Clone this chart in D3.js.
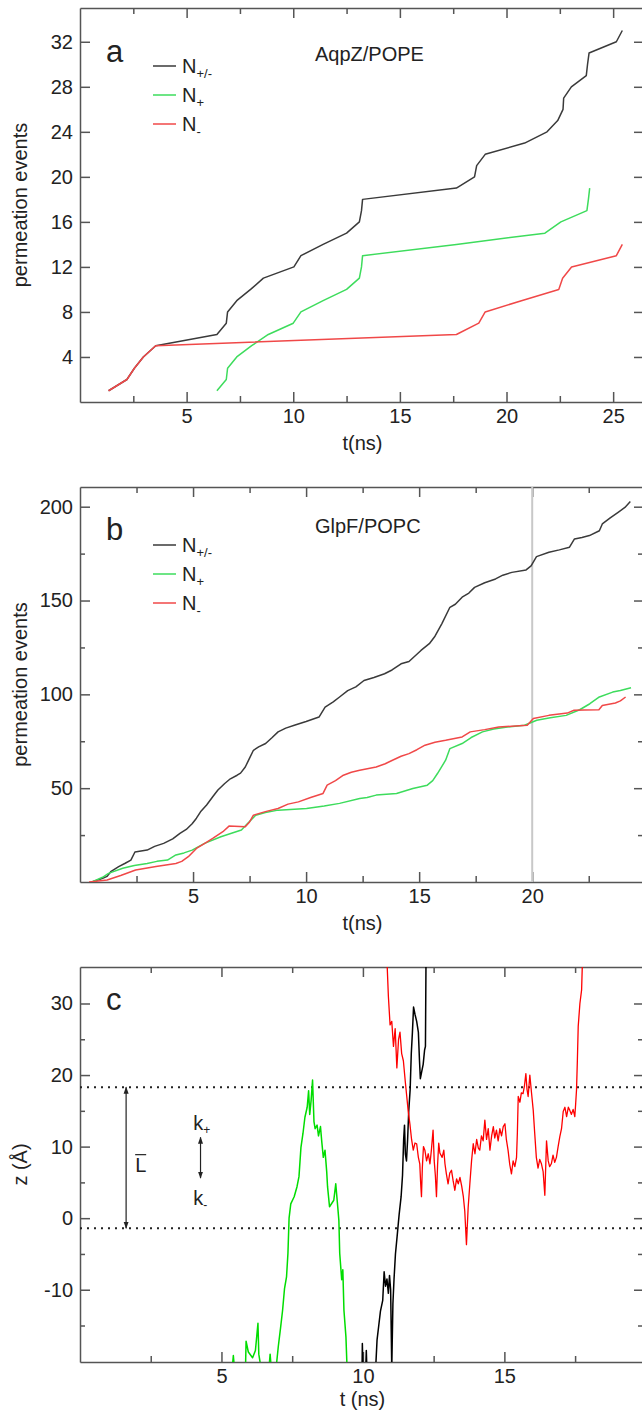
<!DOCTYPE html>
<html>
<head>
<meta charset="utf-8">
<script src="https://cdn.jsdelivr.net/npm/d3@7"></script>
<style>
  body { margin: 0; background: #fff; }
  svg { display: block; font-family: "Liberation Sans", Arial, Helvetica, sans-serif; }
  .axis path, .axis line { stroke: #555; stroke-width: 1.5; }
  .axis text { font-size: 20px; fill: #222; font-family: "Liberation Sans", Arial, sans-serif; }
</style>
</head>
<body>
<svg id="chart" width="642" height="1416"></svg>
<script>
// panel a - AqpZ/POPE, kumulatif kejadian permeasi
const aTimeAll  = [1.34, 2.2, 2.55, 2.97, 3.55, 6.42, 6.86, 6.92, 7.35, 8.0, 8.6, 10.03, 10.36, 11.4, 12.5, 13.1, 13.2, 13.25, 17.65, 18.5, 18.6, 19.0, 20.85, 21.9, 22.4, 22.65, 22.68, 23.04, 23.74, 23.8, 23.87, 25.15, 25.43];
const aCountAll = [1, 2, 3, 4, 5, 6, 7, 8, 9, 10, 11, 12, 13, 14, 15, 16, 17, 18, 19, 20, 21, 22, 23, 24, 25, 26, 27, 28, 29, 30, 31, 32, 33];
const aTimePlus  = [6.42, 6.86, 6.92, 7.35, 8.05, 8.83, 10.0, 10.36, 11.4, 12.5, 13.1, 13.2, 13.25, 17.65, 21.8, 22.55, 23.77, 23.84, 23.9];
const aCountPlus = [1, 2, 3, 4, 5, 6, 7, 8, 9, 10, 11, 12, 13, 14, 15, 16, 17, 18, 19];
const aTimeMinus  = [1.34, 2.2, 2.55, 2.97, 3.55, 17.65, 18.7, 19.0, 20.7, 22.45, 22.63, 23.05, 25.15, 25.43];
const aCountMinus = [1, 2, 3, 4, 5, 6, 7, 8, 9, 10, 11, 12, 13, 14];

// panel b - GlpF/POPC
const bTimeAll  = [0.53, 1.0, 1.2, 1.36, 1.71, 2.0, 2.25, 2.43, 2.97, 3.3, 3.7, 4.1, 4.42, 4.7, 4.96, 5.15, 5.33, 5.6, 5.87, 6.1, 6.4, 6.65, 6.95, 7.1, 7.31, 7.5, 7.67, 7.9, 8.21, 8.5, 8.76, 9.1, 9.48, 10.0, 10.57, 10.84, 11.2, 11.48, 11.84, 12.2, 12.56, 13.0, 13.47, 13.8, 14.2, 14.55, 15.08, 15.45, 15.7, 16.0, 16.36, 16.6, 16.9, 17.2, 17.45, 17.9, 18.38, 18.7, 19.1, 19.73, 19.95, 20.19, 20.74, 21.2, 21.65, 21.87, 22.2, 22.53, 22.97, 23.1, 23.45, 23.8, 24.1, 24.34];
const bCountAll = [0, 2, 3, 5.5, 8.2, 10, 11.7, 16, 17, 19, 20.6, 23, 25.9, 28, 31, 34, 37.4, 41, 45.4, 49, 52.5, 55, 56.9, 58, 61.3, 66, 70.2, 72, 73.8, 77, 80, 82, 83.5, 85.5, 87.9, 93.2, 96, 98.6, 102, 104, 107.4, 109, 111, 113, 116.3, 117.5, 123.4, 127, 131, 137.6, 146.4, 148, 151.8, 154, 157, 159.5, 161.5, 163.5, 165, 166.3, 168.5, 173.4, 175.7, 177, 178.4, 182.8, 183.6, 184.6, 187.2, 190.8, 194, 197, 199.6, 202.8];
const bTimePlus  = [0.53, 1.0, 1.26, 1.89, 2.4, 2.97, 3.4, 3.87, 4.24, 4.6, 4.96, 5.51, 6.23, 6.7, 7.14, 7.4, 7.77, 8.2, 8.76, 10.02, 10.8, 11.48, 12.37, 12.7, 13.1, 14.0, 14.72, 15.36, 15.6, 15.81, 16.17, 16.36, 16.9, 17.3, 17.8, 18.3, 18.9, 19.66, 20.2, 20.8, 21.5, 22.1, 22.55, 22.97, 23.56, 23.9, 24.37];
const bCountPlus = [0, 2.5, 4.6, 7.3, 8.8, 9.9, 11, 11.7, 14.4, 15.5, 17, 20.6, 24.1, 26, 27.7, 31, 35.6, 37, 38.3, 39.2, 40.5, 41.9, 44.5, 45, 46.3, 47.2, 49.8, 51.6, 54, 57.8, 64.9, 71.1, 73.8, 77, 80, 81.5, 82.6, 83.5, 86.2, 87.5, 88.8, 91.8, 95, 98.6, 101.2, 102, 103.5];
const bTimeMinus  = [0.4, 0.8, 1.2, 1.8, 2.46, 3.36, 4.24, 4.5, 4.79, 5.15, 5.5, 5.87, 6.32, 6.59, 7.31, 7.5, 7.67, 8.2, 8.76, 9.2, 9.66, 10.2, 10.75, 10.93, 11.3, 11.65, 12.0, 12.37, 13.1, 13.5, 13.82, 14.2, 14.55, 14.9, 15.26, 15.7, 16.17, 16.9, 17.26, 17.9, 18.52, 19.1, 19.78, 20.05, 20.74, 21.55, 21.85, 22.3, 22.95, 23.1, 23.68, 23.9, 24.13];
const bCountMinus = [0, 0.5, 1.1, 3.5, 6.4, 8.2, 9.9, 11, 13.5, 17.9, 20.5, 23.2, 26.8, 29.8, 29.4, 32, 35.6, 37.5, 39.2, 41.5, 42.7, 45, 47.2, 51.6, 54, 56.9, 58.5, 59.6, 61.3, 63, 64.9, 67, 68.4, 70.5, 72.9, 74.5, 75.5, 77.3, 80, 81.2, 82.6, 83, 83.5, 87.1, 88.8, 90, 91.5, 91.7, 91.8, 94.1, 95.4, 96.5, 98.6];

// panel c - lintasan z molekul air
const cTimeGreen = [5.38, 5.42, 5.46, 5.85, 5.87, 5.95, 6.1, 6.2, 6.29, 6.32, 6.4, 6.68, 6.72, 6.76, 6.93, 7.01, 7.09, 7.16, 7.23, 7.3, 7.35, 7.39, 7.45, 7.57, 7.67, 7.74, 7.81, 7.88, 7.95, 8.03, 8.08, 8.12, 8.17, 8.22, 8.27, 8.31, 8.38, 8.43, 8.5, 8.55, 8.6, 8.66, 8.72, 8.75, 8.82, 8.97, 9.04, 9.11, 9.15, 9.18, 9.25, 9.29, 9.33, 9.4, 9.44];
const cZGreen    = [-21, -19.2, -21, -21, -17.2, -18.7, -19.5, -18.5, -14.7, -19, -21, -21, -19, -21, -21, -17.9, -15.3, -12.9, -9.8, -8.2, -4.9, 0, 2.0, 3.0, 4.4, 5.8, 9.9, 11.8, 14.1, 15.5, 17.8, 14.5, 16.5, 19.3, 13.5, 12.5, 13.0, 11.5, 12.8, 10.5, 8.5, 9.5, 6.5, 4.4, 1.6, 2.5, 4.8, 1.6, -0.3, -4.9, -8.6, -7.2, -12.9, -16.6, -21];
const cTimeBlack = [9.97, 9.98, 10.0, 10.1, 10.12, 10.14, 10.45, 10.5, 10.56, 10.62, 10.7, 10.75, 10.8, 10.85, 10.9, 10.94, 10.98, 11.02, 11.06, 11.1, 11.15, 11.21, 11.28, 11.35, 11.4, 11.44, 11.47, 11.5, 11.54, 11.58, 11.62, 11.67, 11.71, 11.75, 11.79, 11.84, 11.9, 11.96, 12.0, 12.03, 12.08, 12.13, 12.18, 12.21, 12.23];
const cZBlack    = [-21, -17.5, -21, -21, -18.5, -21, -21, -17, -15, -13, -11.5, -7.5, -9.5, -8.5, -10.5, -8, -10, -21, -12, -8.5, -5, -2.5, 0.5, 3, 6, 11, 13, 9, 8, 11, 15, 18, 23, 26, 29.5, 28.5, 27.5, 26, 22, 19.5, 20.5, 21.5, 23.5, 24, 36];
const cTimeRed = [10.85, 10.9, 10.96, 11.02, 11.08, 11.14, 11.2, 11.26, 11.31, 11.37, 11.43, 11.5, 11.55, 11.6, 11.66, 11.72, 11.78, 11.84, 11.9, 11.96, 12.01, 12.04, 12.07, 12.1, 12.14, 12.19, 12.25, 12.31, 12.37, 12.42, 12.48, 12.52, 12.56, 12.6, 12.64, 12.68, 12.72, 12.8, 12.86, 12.9, 12.95, 13.01, 13.07, 13.13, 13.19, 13.25, 13.31, 13.37, 13.43, 13.49, 13.55, 13.6, 13.66, 13.72, 13.78, 13.84, 13.9, 13.96, 14.02, 14.08, 14.13, 14.19, 14.25, 14.31, 14.37, 14.43, 14.49, 14.55, 14.61, 14.66, 14.72, 14.78, 14.84, 14.9, 14.96, 15.02, 15.07, 15.13, 15.19, 15.25, 15.31, 15.37, 15.43, 15.46, 15.49, 15.55, 15.6, 15.66, 15.71, 15.76, 15.8, 15.84, 15.9, 15.96, 16.02, 16.07, 16.13, 16.19, 16.25, 16.31, 16.37, 16.43, 16.49, 16.55, 16.6, 16.66, 16.72, 16.78, 16.84, 16.9, 16.96, 17.02, 17.08, 17.14, 17.2, 17.26, 17.31, 17.37, 17.43, 17.49, 17.52, 17.55, 17.58, 17.61, 17.67, 17.73, 17.76];
const cZRed    = [36, 31, 27, 27.5, 24, 26.5, 21, 25, 26, 23, 22, 19, 17, 15, 13.2, 11, 9.5, 10.5, 10.4, 8.5, 7.6, 5, 3.0, 7, 10, 9.5, 8, 9, 7.6, 9.5, 12.3, 8, 6, 3.0, 7.5, 10.5, 9.1, 8.5, 9.5, 7.6, 6.2, 4.8, 6.3, 6.7, 5.2, 3.9, 5.5, 4.8, 5.7, 4.5, 3.0, 1.0, -3.7, 1.5, 4.8, 8.0, 10.4, 9.0, 11.0, 9.8, 9.5, 11.5, 10.8, 13.7, 11.0, 12.5, 9.5, 11.5, 12.8, 11.2, 12.3, 10.8, 12.5, 11.5, 12.8, 13.2, 11.0, 9.5, 7.5, 6.2, 8.0, 7.2, 8.5, 12, 17.0, 16.2, 17.5, 17.4, 18.5, 20.2, 18, 17.0, 20.0, 17.5, 15.1, 12, 8.5, 7.0, 8.2, 7.6, 6.5, 3.2, 10.8, 8.0, 7.2, 7.6, 8.8, 7.8, 8.5, 10, 11.4, 12.5, 14.9, 15.5, 14.2, 15.5, 15.1, 14.5, 15.2, 14.2, 16, 17.9, 22, 26.8, 30, 31.9, 36];
const cBoundUpper = 18.3;
const cBoundLower = -1.4;

// tick
const aYTicks = [4, 8, 12, 16, 20, 24, 28, 32];
const aXTicks = [5, 10, 15, 20, 25];
const bYTicks = [50, 100, 150, 200];
const bYMinor = [25, 75, 125, 175];
const bXTicks = [5, 10, 15, 20];
const cYTicks = [-10, 0, 10, 20, 30];
const cYMinor = [-15, -5, 5, 15, 25];
const cXTicks = [5, 10, 15];

const legendLabels = [["N", "+/-"], ["N", "+"], ["N", "-"]];

const svg = d3.select("#chart");
const LEFT = 80, RIGHT = 643;

// label tick pakai tanda hubung biasa, bukan minus unicode
const fmtTick = d => String(d);

function drawPanel(p) {
  const g = svg.append("g");
  const x = d3.scaleLinear().domain(p.xDomain).range([LEFT, RIGHT]);
  const y = d3.scaleLinear().domain(p.yDomain).range([p.bottom, p.top]);

  const clipId = "clip-" + p.name;
  svg.append("clipPath").attr("id", clipId)
    .append("rect")
    .attr("x", LEFT).attr("y", p.top)
    .attr("width", RIGHT - LEFT).attr("height", p.bottom - p.top);

  // minor ticks x (setiap 2.5)
  const xMinor = p.xTicks.map(d => d - 2.5).concat([p.xTicks[p.xTicks.length - 1] + 2.5]);
  g.append("g").attr("class", "axis")
    .attr("transform", `translate(0,${p.bottom})`)
    .call(d3.axisBottom(x).tickValues(xMinor).tickSize(-6).tickFormat(""))
    .call(a => a.select(".domain").remove());
  g.append("g").attr("class", "axis")
    .attr("transform", `translate(0,${p.top})`)
    .call(d3.axisTop(x).tickValues(xMinor).tickSize(-6).tickFormat(""))
    .call(a => a.select(".domain").remove());

  if (p.yMinor) {
    g.append("g").attr("class", "axis")
      .attr("transform", `translate(${LEFT},0)`)
      .call(d3.axisLeft(y).tickValues(p.yMinor).tickSize(-5).tickFormat(""))
      .call(a => a.select(".domain").remove());
    g.append("g").attr("class", "axis")
      .attr("transform", `translate(${RIGHT},0)`)
      .call(d3.axisRight(y).tickValues(p.yMinor).tickSize(-5).tickFormat(""))
      .call(a => a.select(".domain").remove());
  }

  // sumbu utama
  g.append("g").attr("class", "axis")
    .attr("transform", `translate(0,${p.bottom})`)
    .call(d3.axisBottom(x).tickValues(p.xTicks).tickSize(-10).tickSizeOuter(0).tickPadding(7).tickFormat(fmtTick));
  g.append("g").attr("class", "axis")
    .attr("transform", `translate(0,${p.top})`)
    .call(d3.axisTop(x).tickValues(p.xTicks).tickSize(-10).tickSizeOuter(0).tickFormat(""));
  g.append("g").attr("class", "axis")
    .attr("transform", `translate(${LEFT},0)`)
    .call(d3.axisLeft(y).tickValues(p.yTicks).tickSize(-10).tickSizeOuter(0).tickPadding(7).tickFormat(fmtTick));
  g.append("g").attr("class", "axis")
    .attr("transform", `translate(${RIGHT},0)`)
    .call(d3.axisRight(y).tickValues(p.yTicks).tickSize(-9).tickSizeOuter(0).tickFormat(""));

  // label sumbu
  g.append("text")
    .attr("x", (LEFT + RIGHT) / 2 + 1).attr("y", p.bottom + p.xLabelDy)
    .attr("text-anchor", "middle").attr("font-size", "20px").attr("fill", "#222")
    .text(p.xLabel);
  g.append("text")
    .attr("transform", `translate(27,${(p.top + p.bottom) / 2}) rotate(-90)`)
    .attr("text-anchor", "middle").attr("font-size", "20px").attr("fill", "#222")
    .text(p.yLabel);

  // huruf panel
  g.append("text")
    .attr("x", 106).attr("y", p.top + p.letterDy)
    .attr("font-size", "31px").attr("fill", "#222")
    .text(p.letter);

  const plot = g.append("g").attr("clip-path", `url(#${clipId})`);
  return { g, plot, x, y };
}

function drawSeries(ctx, times, vals, color, width) {
  const line = d3.line().x(d => ctx.x(d[0])).y(d => ctx.y(d[1]));
  ctx.plot.append("path")
    .datum(d3.zip(times, vals))
    .attr("fill", "none")
    .attr("stroke", color)
    .attr("stroke-width", width)
    .attr("stroke-linejoin", "round")
    .attr("d", line);
}

function drawLegend(ctx, top, title, titleDy, colors) {
  ctx.g.append("text")
    .attr("x", 315).attr("y", top + titleDy)
    .attr("font-size", "20px").attr("fill", "#222")
    .text(title);
  legendLabels.forEach((lab, i) => {
    const yy = top + 58 + i * 29;
    ctx.g.append("line")
      .attr("x1", 153).attr("x2", 176).attr("y1", yy).attr("y2", yy)
      .attr("stroke", colors[i]).attr("stroke-width", 1.5);
    const t = ctx.g.append("text")
      .attr("x", 182).attr("y", yy + 7)
      .attr("font-size", "20px").attr("fill", "#222");
    t.append("tspan").text(lab[0]);
    t.append("tspan").attr("font-size", "13px").attr("dy", 5).text(lab[1]);
  });
}

const abColors = ["#3a3a3a", "#3ddc5c", "#f04848"];

// ---- panel a
const A = drawPanel({
  name: "a", top: 8, bottom: 402, xDomain: [0, 26.4], yDomain: [0, 35],
  xTicks: aXTicks, yTicks: aYTicks, xLabel: "t(ns)", xLabelDy: 48, yLabel: "permeation events",
  letter: "a", letterDy: 54
});
drawSeries(A, aTimeAll, aCountAll, abColors[0], 1.5);
drawSeries(A, aTimePlus, aCountPlus, abColors[1], 1.5);
drawSeries(A, aTimeMinus, aCountMinus, abColors[2], 1.5);
drawLegend(A, 8, "AqpZ/POPE", 53, abColors);

// ---- panel b
const B = drawPanel({
  name: "b", top: 487, bottom: 882, xDomain: [0, 24.9], yDomain: [0, 210.5],
  xTicks: bXTicks, yTicks: bYTicks, yMinor: bYMinor, xLabel: "t(ns)", xLabelDy: 48, yLabel: "permeation events",
  letter: "b", letterDy: 53
});
B.plot.append("line")
  .attr("x1", B.x(20)).attr("x2", B.x(20))
  .attr("y1", B.y(0)).attr("y2", B.y(210.5))
  .attr("stroke", "#c8c8c8").attr("stroke-width", 2);
drawSeries(B, bTimeAll, bCountAll, abColors[0], 1.5);
drawSeries(B, bTimePlus, bCountPlus, abColors[1], 1.5);
drawSeries(B, bTimeMinus, bCountMinus, abColors[2], 1.5);
drawLegend(B, 487, "GlpF/POPC", 46, abColors);

// ---- panel c
const C = drawPanel({
  name: "c", top: 967, bottom: 1362, xDomain: [0, 19.9], yDomain: [-20.1, 35.1],
  xTicks: cXTicks, yTicks: cYTicks, yMinor: cYMinor, xLabel: "t (ns)", xLabelDy: 44, yLabel: "z (Å)",
  letter: "c", letterDy: 43
});
[cBoundUpper, cBoundLower].forEach(v => {
  C.plot.append("line")
    .attr("x1", LEFT).attr("x2", RIGHT)
    .attr("y1", C.y(v)).attr("y2", C.y(v))
    .attr("stroke", "#222").attr("stroke-width", 2)
    .attr("stroke-dasharray", "2,5");
});
drawSeries(C, cTimeGreen, cZGreen, "#00dd00", 1.5);
drawSeries(C, cTimeBlack, cZBlack, "#000", 1.5);
drawSeries(C, cTimeRed, cZRed, "#ff0000", 1.3);

// panah anotasi
const defs = svg.append("defs");
defs.append("marker").attr("id", "arr")
  .attr("viewBox", "0 0 10 10").attr("refX", 9).attr("refY", 5)
  .attr("markerWidth", 6).attr("markerHeight", 6).attr("orient", "auto-start-reverse")
  .append("path").attr("d", "M0,1.5L10,5L0,8.5Z").attr("fill", "#222");

C.g.append("line")
  .attr("x1", C.x(1.63)).attr("x2", C.x(1.63))
  .attr("y1", C.y(cBoundUpper)).attr("y2", C.y(cBoundLower))
  .attr("stroke", "#222").attr("stroke-width", 1.2)
  .attr("marker-start", "url(#arr)").attr("marker-end", "url(#arr)");
const lx = C.x(1.95), ly = C.y(6.5);
C.g.append("text").attr("x", lx).attr("y", ly)
  .attr("font-size", "20px").attr("fill", "#222").text("L");
C.g.append("line")
  .attr("x1", lx).attr("x2", lx + 11).attr("y1", ly - 17).attr("y2", ly - 17)
  .attr("stroke", "#222").attr("stroke-width", 1.2);

C.g.append("line")
  .attr("x1", C.x(4.26)).attr("x2", C.x(4.26))
  .attr("y1", C.y(11.3)).attr("y2", C.y(5.6))
  .attr("stroke", "#222").attr("stroke-width", 1.2)
  .attr("marker-start", "url(#arr)").attr("marker-end", "url(#arr)");
const kp = C.g.append("text").attr("x", C.x(4.0)).attr("y", C.y(12.3))
  .attr("font-size", "20px").attr("fill", "#222");
kp.append("tspan").text("k");
kp.append("tspan").attr("font-size", "12px").attr("dy", 4).text("+");
const km = C.g.append("text").attr("x", C.x(4.0)).attr("y", C.y(1.8))
  .attr("font-size", "20px").attr("fill", "#222");
km.append("tspan").text("k");
km.append("tspan").attr("font-size", "12px").attr("dy", 4).text("-");
</script>
</body>
</html>
